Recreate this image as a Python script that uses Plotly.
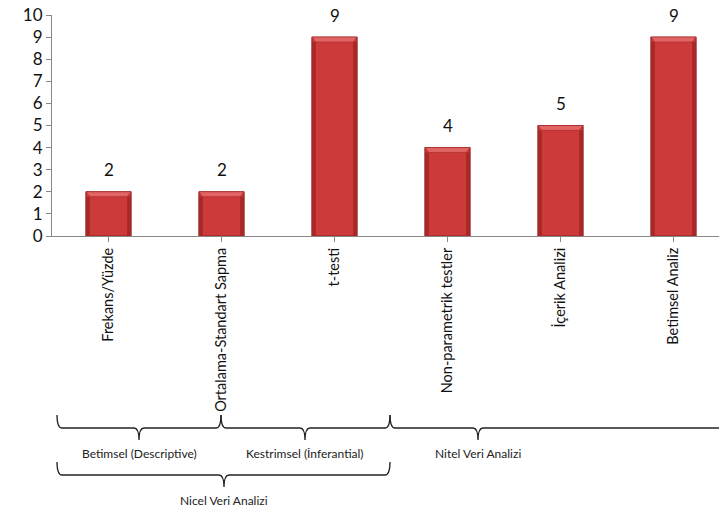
import plotly.graph_objects as go

# Analysis methods and how many studies used each
categories = ["Frekans/Yüzde", "Ortalama-Standart Sapma", "t-testi",
              "Non-parametrik testler", "İçerik Analizi", "Betimsel Analiz"]
counts = [2, 2, 9, 4, 5, 9]
y_ticks = list(range(0, 11))

# Grouping brackets under the axis: (left px, right px, centre px, line y px, label)
groups = [
    (57, 221, 139, 428, "Betimsel (Descriptive)"),
    (221, 390, 305, 428, "Kestrimsel (İnferantial)"),
    (390, 760, 478, 428, "Nitel Veri Analizi"),
    (57, 390, 224, 475, "Nicel Veri Analizi"),
]

W, H = 719, 512
ML, MR, MT, MB = 52, 0, 15, 276
PW, PH = W - ML - MR, H - MT - MB
FONT = "Lato"


def px(x):
    return (x - ML) / PW


def py(y):
    return (H - MB - y) / PH


BAR_W = 0.4
fig = go.Figure(go.Bar(
    x=list(range(len(categories))), y=counts, width=BAR_W,
    marker=dict(color="#cc3a3a", line=dict(color="#8e1c1c", width=1)),
    hoverinfo="skip",
))

shapes = []
annotations = []
for i, v in enumerate(counts):
    l, r = i - BAR_W / 2, i + BAR_W / 2
    d, h = 0.035, 0.22
    # side shading
    shapes.append(dict(type="rect", xref="x", yref="y", x0=l, x1=l + d, y0=0, y1=v - h,
                       fillcolor="#a82828", line=dict(width=0), layer="above"))
    shapes.append(dict(type="rect", xref="x", yref="y", x0=r - d, x1=r, y0=0, y1=v - h,
                       fillcolor="#a82828", line=dict(width=0), layer="above"))
    # top bevel
    shapes.append(dict(type="path", xref="x", yref="y",
                       path=f"M {l},{v} L {r},{v} L {r - d},{v - h} L {l + d},{v - h} Z",
                       fillcolor="#e26464", line=dict(color="#a82828", width=0.6),
                       layer="above"))
    annotations.append(dict(x=i, y=v, xref="x", yref="y", text=str(v), showarrow=False,
                            yshift=22, font=dict(family=FONT, size=17, color="#111")))

for x0, x1, xc, yl, label in groups:
    ytop, ybot, rr = yl - 13, yl + 12, 5
    path = (f"M {px(x0)},{py(ytop)} Q {px(x0)},{py(yl)} {px(x0 + rr)},{py(yl)} "
            f"L {px(xc - rr)},{py(yl)} Q {px(xc)},{py(yl)} {px(xc)},{py(ybot)} "
            f"Q {px(xc)},{py(yl)} {px(xc + rr)},{py(yl)} "
            f"L {px(x1 - rr)},{py(yl)} Q {px(x1)},{py(yl)} {px(x1)},{py(ytop)}")
    shapes.append(dict(type="path", xref="paper", yref="paper", path=path,
                       line=dict(color="#222", width=1.3)))
    annotations.append(dict(x=px(xc), y=py(yl + 25), xref="paper", yref="paper",
                            text=label, showarrow=False, xanchor="center",
                            yanchor="middle",
                            font=dict(family=FONT, size=12, color="#222")))

fig.update_layout(
    width=W, height=H,
    margin=dict(l=ML, r=MR, t=MT, b=MB, autoexpand=False),
    paper_bgcolor="white", plot_bgcolor="white",
    showlegend=False, bargap=0.6,
    shapes=shapes, annotations=annotations,
    font=dict(family=FONT, color="#111"),
)
fig.update_xaxes(
    tickmode="array", tickvals=list(range(len(categories))), ticktext=categories,
    range=[-0.5, -0.5 + PW / 113], tickangle=-90, tickson="boundaries",
    ticks="outside", ticklen=5, tickcolor="#888", showline=True, linecolor="#888",
    showgrid=False, tickfont=dict(family=FONT, size=14.5, color="#111"),
)
fig.update_yaxes(
    range=[0, 10], tickvals=y_ticks, ticks="outside", ticklen=5, tickcolor="#888",
    showline=True, linecolor="#888", showgrid=False, zeroline=False,
    tickfont=dict(family=FONT, size=17, color="#111"),
)

fig.write_html("out.html")
